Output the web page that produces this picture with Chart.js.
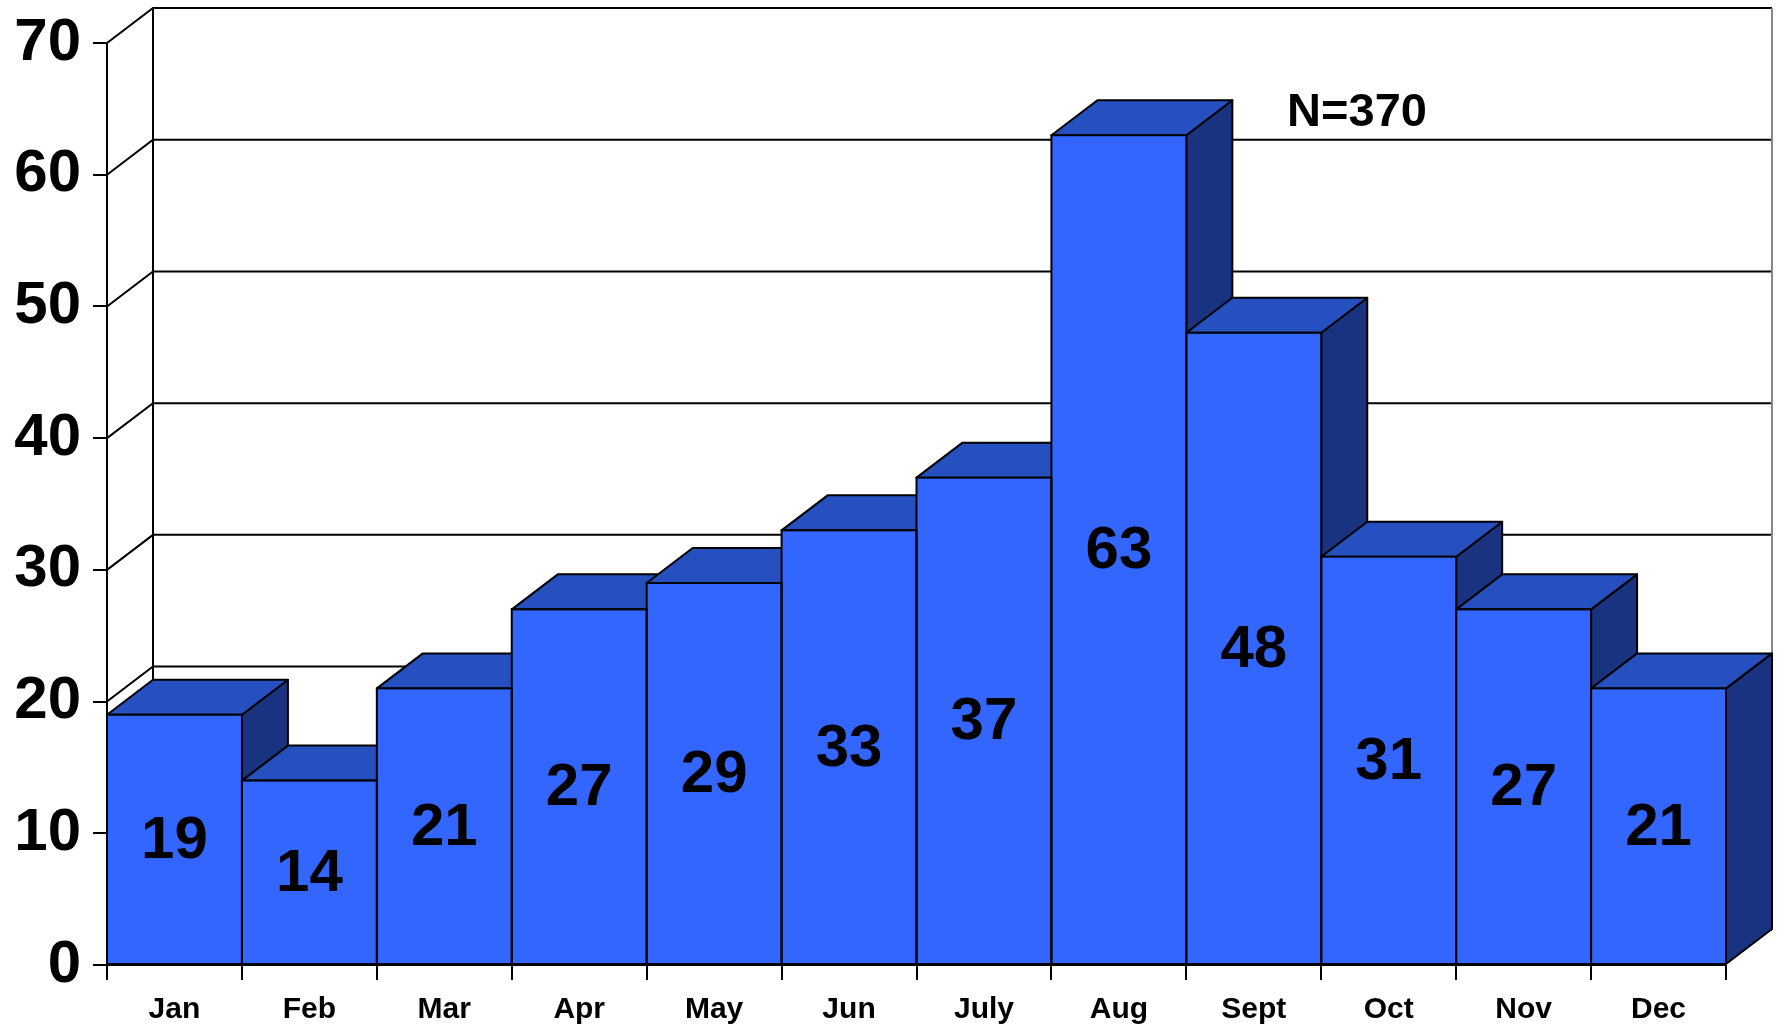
<!DOCTYPE html>
<html>
<head>
<meta charset="utf-8">
<script src="https://cdn.jsdelivr.net/npm/chart.js@4.4.1/dist/chart.umd.min.js"></script>
<style>
  html, body { margin: 0; padding: 0; background: #fff; }
  #wrap { width: 1781px; height: 1028px; position: relative; }
</style>
</head>
<body>
<div id="wrap"><canvas id="barChart"></canvas></div>
<script>
const months = ["Jan", "Feb", "Mar", "Apr", "May", "Jun", "July", "Aug", "Sept", "Oct", "Nov", "Dec"];
const counts = [19, 14, 21, 27, 29, 33, 37, 63, 48, 31, 27, 21];
const yTicks = [0, 10, 20, 30, 40, 50, 60, 70];
const totalLabel = "N=370";

const DX = 46, DY = 35;   // depth offset of the fake 3d
const FONT = "'Liberation Sans', Arial, sans-serif";

function poly(ctx, pts, fill) {
    ctx.beginPath();
    ctx.moveTo(pts[0][0], pts[0][1]);
    for (let i = 1; i < pts.length; i++) ctx.lineTo(pts[i][0], pts[i][1]);
    ctx.closePath();
    if (fill) { ctx.fillStyle = fill; ctx.fill(); }
    ctx.stroke();
}

const box3d = {
    id: 'box3d',
    beforeDatasetsDraw(chart) {
        const ctx = chart.ctx;
        const area = chart.chartArea;
        const y = chart.scales.y;
        ctx.save();
        ctx.strokeStyle = '#000';
        ctx.lineWidth = 2;
        // back wall + diagonals
        yTicks.forEach(v => {
            const py = y.getPixelForValue(v);
            ctx.beginPath();
            ctx.moveTo(area.left, py);
            ctx.lineTo(area.left + DX, py - DY);
            ctx.lineTo(area.right + DX, py - DY);
            ctx.stroke();
        });
        ctx.beginPath();
        ctx.moveTo(area.left + DX, area.top - DY);
        ctx.lineTo(area.left + DX, area.bottom - DY);
        ctx.stroke();
        ctx.strokeStyle = '#888';
        ctx.beginPath();
        ctx.moveTo(area.right + DX, area.top - DY);
        ctx.lineTo(area.right + DX, area.bottom - DY);
        ctx.stroke();

        // side and top faces, left to right
        ctx.strokeStyle = '#000';
        ctx.lineJoin = 'round';
        const bars = chart.getDatasetMeta(0).data;
        bars.forEach(b => {
            const l = b.x - b.width / 2, r = b.x + b.width / 2;
            const t = b.y, base = b.base;
            poly(ctx, [[r, t], [r + DX, t - DY], [r + DX, base - DY], [r, base]], '#1A3380');
            poly(ctx, [[l, t], [l + DX, t - DY], [r + DX, t - DY], [r, t]], '#2650BF');
        });
        ctx.restore();
    },
    afterDatasetsDraw(chart) {
        const ctx = chart.ctx;
        const bars = chart.getDatasetMeta(0).data;
        ctx.save();
        ctx.strokeStyle = '#000';
        ctx.lineWidth = 2;
        bars.forEach(b => {
            ctx.strokeRect(b.x - b.width / 2, b.y, b.width, b.base - b.y);
        });
        ctx.fillStyle = '#000';
        ctx.textAlign = 'center';
        ctx.textBaseline = 'middle';
        ctx.font = 'bold 60px ' + FONT;
        bars.forEach((b, i) => {
            ctx.fillText(String(counts[i]), b.x, (b.y + b.base) / 2 + 2);
        });
        ctx.font = 'bold 47px ' + FONT;
        ctx.fillText(totalLabel, 1357, 113);
        ctx.restore();
    }
};

const ctx = document.getElementById('barChart');

new Chart(ctx, {
    type: 'bar',
    data: {
        labels: months,
        datasets: [{
            data: counts,
            backgroundColor: '#3366FF',
            borderWidth: 0,
            barPercentage: 1,
            categoryPercentage: 1
        }]
    },
    options: {
        responsive: true,
        maintainAspectRatio: false,
        animation: false,
        layout: { padding: { top: 43, right: 55, left: 0, bottom: 0 } },
        plugins: { legend: { display: false }, tooltip: { enabled: false } },
        scales: {
            x: {
                grid: { offset: true, drawOnChartArea: false, tickLength: 15, color: '#000', lineWidth: 2 },
                border: { color: '#000', width: 2 },
                ticks: { color: '#000', font: { family: FONT, size: 30, weight: 'bold' }, padding: 12, maxRotation: 0 },
                afterFit(scale) { scale.height = 63; }
            },
            y: {
                min: 0,
                max: 70,
                afterBuildTicks(scale) { scale.ticks = yTicks.map(v => ({ value: v })); },
                grid: { drawOnChartArea: false, tickLength: 14, color: '#000', lineWidth: 2 },
                border: { color: '#000', width: 2 },
                ticks: { color: '#000', font: { family: FONT, size: 60, weight: 'bold', lineHeight: 1 }, padding: 12 },
                afterFit(scale) { scale.width = 107; }
            }
        }
    },
    plugins: [box3d]
});
</script>
</body>
</html>
